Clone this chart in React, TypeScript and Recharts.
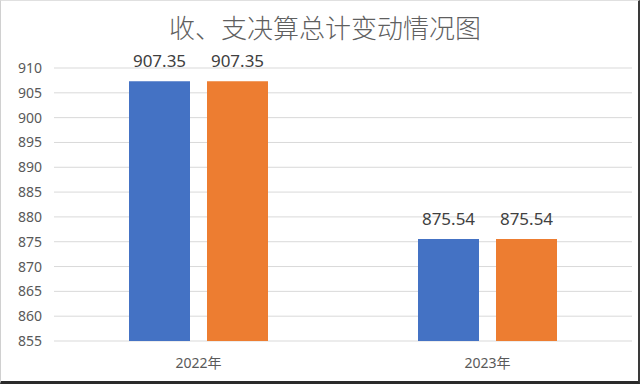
import { Bar, BarChart, CartesianGrid, LabelList, XAxis, YAxis } from "recharts";

const years = ["2022年", "2023年"];
const incomeTotals = [907.35, 875.54];
const expenseTotals = [907.35, 875.54];
const yTicks = [855, 860, 865, 870, 875, 880, 885, 890, 895, 900, 905, 910];

const chartData = years.map((year, i) => ({
  year,
  income: incomeTotals[i],
  expense: expenseTotals[i],
}));

const FONT = '"Noto Sans", "Noto Sans CJK SC", sans-serif';

export default function App() {
  return (
    <div
      style={{
        position: "absolute",
        left: 0,
        top: 0,
        width: 640,
        height: 384,
        background: "#fff",
        boxSizing: "border-box",
        borderTop: "1px solid #e0e0e0",
        borderLeft: "1px solid #d0d0d0",
        borderRight: "2px solid #3a3a3a",
        borderBottom: "3px solid #2a2a2a",
        fontFamily: FONT,
      }}
    >
      <div
        style={{
          position: "absolute",
          top: 8,
          left: 0,
          width: 648,
          textAlign: "center",
          fontSize: 26,
          color: "#5f5f5f",
          fontFamily: '"Noto Sans CJK SC", sans-serif',
          fontWeight: 300,
          lineHeight: "36px",
        }}
      >
        收、支决算总计变动情况图
      </div>
      <div style={{ position: "absolute", left: -1, top: -1 }}>
        <BarChart
          width={640}
          height={384}
          data={chartData}
          margin={{ top: 68, right: 8, bottom: 13, left: 0 }}
          barSize={61}
          barGap={17}
        >
          <CartesianGrid vertical={false} stroke="#d9d9d9" />
          <XAxis
            dataKey="year"
            axisLine={false}
            tickLine={false}
            height={30}
            tickMargin={11}
            tick={{ fontSize: 14, fill: "#595959", fontFamily: FONT }}
          />
          <YAxis
            domain={[855, 910]}
            ticks={yTicks}
            interval={0}
            axisLine={false}
            tickLine={false}
            width={54}
            tickMargin={6}
            tick={{ fontSize: 14, fill: "#595959", fontFamily: FONT }}
          />
          <Bar dataKey="income" fill="#4472c4" isAnimationActive={false}>
            <LabelList
              dataKey="income"
              position="top"
              offset={14}
              style={{ fontSize: 17, fill: "#404040", fontFamily: FONT }}
            />
          </Bar>
          <Bar dataKey="expense" fill="#ed7d31" isAnimationActive={false}>
            <LabelList
              dataKey="expense"
              position="top"
              offset={14}
              style={{ fontSize: 17, fill: "#404040", fontFamily: FONT }}
            />
          </Bar>
        </BarChart>
      </div>
    </div>
  );
}
